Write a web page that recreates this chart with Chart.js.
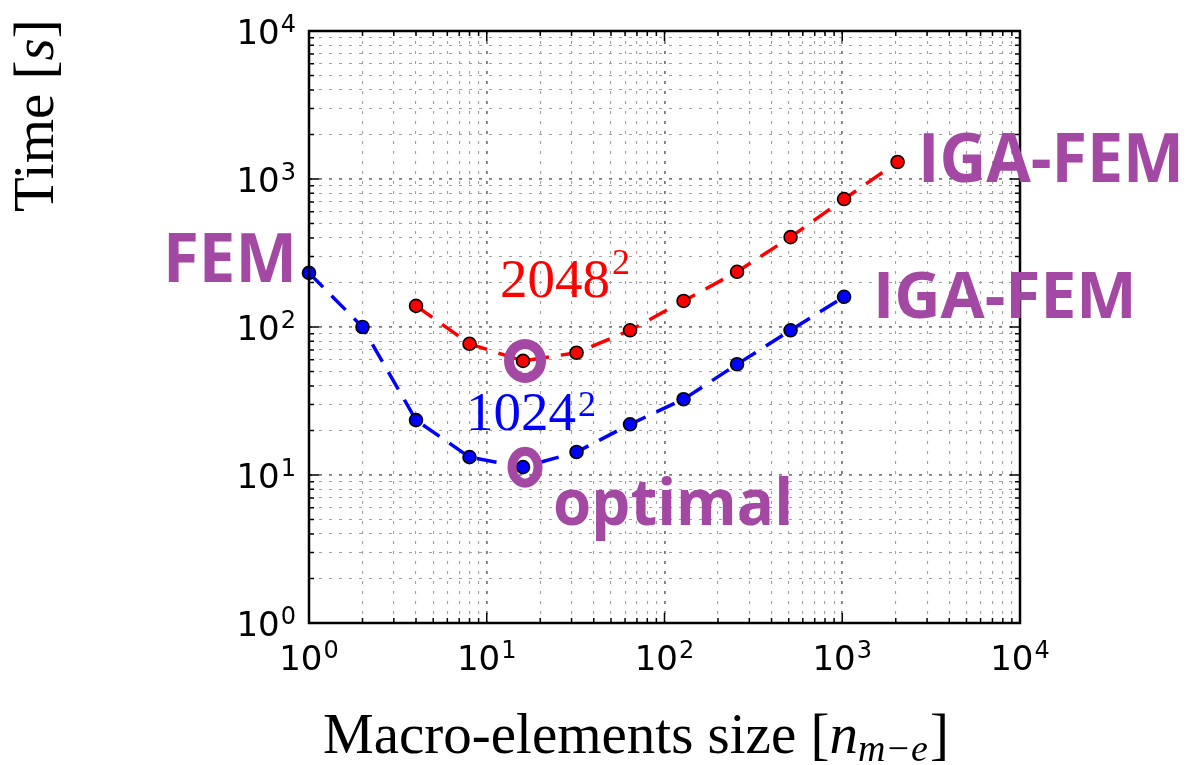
<!DOCTYPE html>
<html>
<head>
<meta charset="utf-8">
<script src="https://cdn.jsdelivr.net/npm/chart.js@4"></script>
<style>
  html, body { margin: 0; padding: 0; background: #fff; }
  #wrap { width: 1195px; height: 765px; }
</style>
</head>
<body>
<div id="wrap"><canvas id="timeChart"></canvas></div>
<script>
// valores
const sizes1024 = [1, 2, 4, 8, 16, 32, 64, 128, 256, 512, 1024];
const time1024  = [232, 100, 23.5, 13.2, 11.3, 14.3, 22, 32.5, 56, 95, 160];
const sizes2048 = [4, 8, 16, 32, 64, 128, 256, 512, 1024, 2048];
const time2048  = [139, 77, 59, 67, 95, 150, 236, 405, 732, 1303];
const xExponents = [0, 1, 2, 3, 4];
const yExponents = [0, 1, 2, 3, 4];
const optimalSize = 16;

const PURPLE = '#a349a4';

function logTicks(minExp, maxExp) {
  const out = [];
  for (let e = minExp; e < maxExp; e++) {
    for (let k = 1; k < 10; k++) out.push(k * Math.pow(10, e));
  }
  out.push(Math.pow(10, maxExp));
  return out;
}
function isPow10(v) {
  const l = Math.log10(v);
  return Math.abs(l - Math.round(l)) < 1e-9;
}

const gridOpts = {
  color: (c) => c.tick && isPow10(c.tick.value) ? '#7a7a7a' : '#a0a0a0',
  lineWidth: (c) => c.tick && isPow10(c.tick.value) ? 1.8 : 1.1,
  drawTicks: false
};

const decoPlugin = {
  id: 'deco',
  afterDatasetsDraw(chart) {
    const ctx = chart.ctx;
    const xs = chart.scales.x, ys = chart.scales.y;
    // anéis roxos no ponto ótimo
    const rings = [
      { y: time2048[sizes2048.indexOf(optimalSize)], rx: 16, ry: 17, lw: 10 },
      { y: time1024[sizes1024.indexOf(optimalSize)], rx: 13, ry: 16, lw: 9 }
    ];
    ctx.save();
    ctx.strokeStyle = PURPLE;
    rings.forEach(r => {
      ctx.lineWidth = r.lw;
      ctx.beginPath();
      ctx.ellipse(xs.getPixelForValue(optimalSize) + 2, ys.getPixelForValue(r.y), r.rx, r.ry, 0, 0, Math.PI * 2);
      ctx.stroke();
    });
    ctx.restore();
  },
  afterDraw(chart) {
    const ctx = chart.ctx;
    const a = chart.chartArea;
    const xs = chart.scales.x, ys = chart.scales.y;
    ctx.save();

    // ticks internos nos quatro lados
    ctx.strokeStyle = '#000';
    ctx.lineWidth = 1.5;
    logTicks(0, 4).forEach(v => {
      const len = isPow10(v) ? 10 : 5;
      const px = xs.getPixelForValue(v);
      const py = ys.getPixelForValue(v);
      ctx.beginPath();
      ctx.moveTo(px, a.bottom); ctx.lineTo(px, a.bottom - len);
      ctx.moveTo(px, a.top); ctx.lineTo(px, a.top + len);
      ctx.moveTo(a.left, py); ctx.lineTo(a.left + len, py);
      ctx.moveTo(a.right, py); ctx.lineTo(a.right - len, py);
      ctx.stroke();
    });

    // moldura
    ctx.lineWidth = 2.5;
    ctx.strokeRect(a.left, a.top, a.right - a.left, a.bottom - a.top);

    // rótulos 10^n
    ctx.fillStyle = '#000';
    ctx.textBaseline = 'alphabetic';
    const base = '34px "DejaVu Sans"', sup = '24px "DejaVu Sans"';
    function powLabel(e) {
      ctx.font = base; const w1 = ctx.measureText('10').width;
      ctx.font = sup; const w2 = ctx.measureText(String(e)).width;
      return { w1, w2, total: w1 + 1 + w2 };
    }
    function drawPow(e, left, baseline) {
      const m = powLabel(e);
      ctx.textAlign = 'left';
      ctx.font = base; ctx.fillText('10', left, baseline);
      ctx.font = sup; ctx.fillText(String(e), left + m.w1 + 1, baseline - 12);
    }
    xExponents.forEach(e => {
      const px = xs.getPixelForValue(Math.pow(10, e));
      const m = powLabel(e);
      drawPow(e, px - m.total / 2, 670);
    });
    yExponents.forEach(e => {
      const py = ys.getPixelForValue(Math.pow(10, e));
      const m = powLabel(e);
      drawPow(e, 296 - m.total, py + 12.5);
    });

    // títulos dos eixos
    const serif = '"Liberation Serif", "Times New Roman", serif';
    ctx.textAlign = 'left';
    let x = 323;
    ctx.font = '57px ' + serif;
    ctx.fillText('Macro-elements size [', x, 753);
    x += ctx.measureText('Macro-elements size [').width;
    ctx.font = 'italic 57px ' + serif;
    ctx.fillText('n', x, 753);
    x += ctx.measureText('n').width;
    ctx.font = 'italic 38px ' + serif;
    ctx.fillText('m\u2212e', x, 761);
    x += ctx.measureText('m\u2212e').width + 2;
    ctx.font = '57px ' + serif;
    ctx.fillText(']', x, 753);

    ctx.save();
    ctx.translate(53, 212);
    ctx.rotate(-Math.PI / 2);
    let t = 0;
    ctx.font = '57px ' + serif;
    ctx.fillText('Time [', t, 0);
    t += ctx.measureText('Time [').width;
    ctx.font = 'italic 57px ' + serif;
    ctx.fillText('s', t, 0);
    t += ctx.measureText('s').width;
    ctx.font = '57px ' + serif;
    ctx.fillText(']', t, 0);
    ctx.restore();

    // anotações
    ctx.fillStyle = PURPLE;
    ctx.font = 'bold 68px "Open Sans"';
    ctx.fillText('FEM', 163, 282, 134);
    ctx.fillText('IGA-FEM', 918, 182, 266);
    ctx.font = 'bold 64px "Open Sans"';
    ctx.fillText('IGA-FEM', 873, 318, 270);
    ctx.fillText('optimal', 553, 525, 240);

    ctx.font = '55px ' + serif;
    ctx.fillStyle = '#ff0000';
    ctx.fillText('2048', 500, 297);
    let w = ctx.measureText('2048').width;
    ctx.font = '36px ' + serif;
    ctx.fillText('2', 500 + w + 2, 274);
    ctx.font = '55px ' + serif;
    ctx.fillStyle = '#0000ff';
    ctx.fillText('1024', 466, 430);
    w = ctx.measureText('1024').width;
    ctx.font = '36px ' + serif;
    ctx.fillText('2', 466 + w + 2, 416);

    ctx.restore();
  }
};

new Chart(document.getElementById('timeChart'), {
  type: 'line',
  data: {
    datasets: [{
      label: '1024^2',
      data: sizes1024.map((s, i) => ({ x: s, y: time1024[i] })),
      borderColor: '#0000ff',
      backgroundColor: '#0000ff',
      borderWidth: 3.5,
      borderDash: [20, 12],
      pointRadius: 6.5,
      pointBorderColor: '#000',
      pointBorderWidth: 1.6,
      clip: false
    }, {
      label: '2048^2',
      data: sizes2048.map((s, i) => ({ x: s, y: time2048[i] })),
      borderColor: '#ff0000',
      backgroundColor: '#ff0000',
      borderWidth: 3.5,
      borderDash: [20, 12],
      pointRadius: 6.5,
      pointBorderColor: '#000',
      pointBorderWidth: 1.6,
      clip: false
    }]
  },
  options: {
    responsive: true,
    maintainAspectRatio: false,
    animation: false,
    events: [],
    layout: { padding: { left: 309, right: 175, top: 31, bottom: 142 } },
    plugins: { legend: { display: false }, tooltip: { enabled: false } },
    scales: {
      x: {
        type: 'logarithmic',
        min: 1, max: 10000,
        afterBuildTicks: (s) => { s.ticks = logTicks(0, 4).map(v => ({ value: v })); },
        ticks: { display: false },
        grid: gridOpts,
        border: { display: false, dash: [3, 7] }
      },
      y: {
        type: 'logarithmic',
        min: 1, max: 10000,
        afterBuildTicks: (s) => { s.ticks = logTicks(0, 4).map(v => ({ value: v })); },
        ticks: { display: false },
        grid: gridOpts,
        border: { display: false, dash: [3, 7] }
      }
    }
  },
  plugins: [decoPlugin]
});
</script>
</body>
</html>
